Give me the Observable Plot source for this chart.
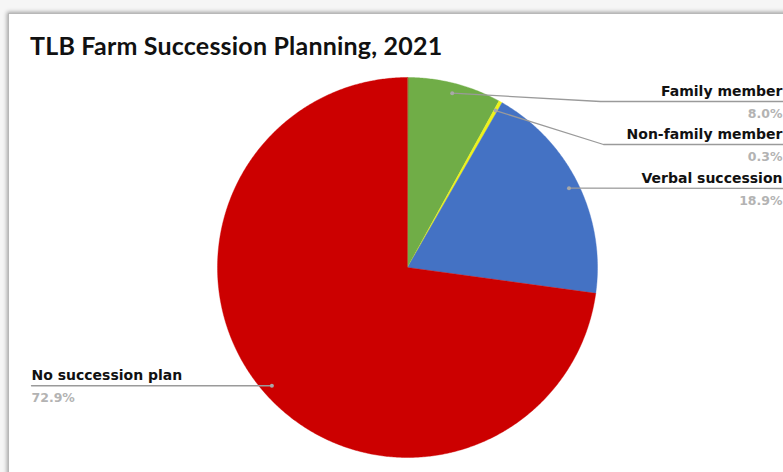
<!DOCTYPE html>
<html>
<head>
<meta charset="utf-8">
<script src="https://cdn.jsdelivr.net/npm/d3@7"></script>
<script src="https://cdn.jsdelivr.net/npm/@observablehq/plot@0.6"></script>
<style>
  html, body { margin: 0; padding: 0; background: #f4f4f4; }
  #wrap { position: relative; width: 783px; height: 472px; overflow: hidden; background: #f6f6f6; }
  #card { position: absolute; left: 8px; top: 13px; width: 820px; height: 520px; background: #fff;
          border-left: 1px solid #b8b8b8; border-top: 1px solid #b8b8b8;
          box-shadow: -1px -1px 4px rgba(0,0,0,0.35); }
  #title { position: absolute; left: 30px; top: 30px; font-family: Lato, "Open Sans", sans-serif;
           font-weight: 700; font-size: 25px; letter-spacing: 0.2px; color: #111; white-space: nowrap; }
  #chart { position: absolute; left: 0; top: 0; }
  #chart svg text.lbl { letter-spacing: 0.3px; }
</style>
</head>
<body>
<div id="wrap">
  <div id="card"></div>
  <div id="title">TLB Farm Succession Planning, 2021</div>
  <div id="chart"></div>
</div>
<script>
// ---- data ----
const categories = ["Family member", "Non-family member", "Verbal succession", "No succession plan"];
const shares = [8.0, 0.3, 18.9, 72.9];
const percentLabels = ["8.0%", "0.3%", "18.9%", "72.9%"];

// ---- styles / layout ----
const palette = ["#70ad47", "#eef21a", "#4472c4", "#cc0000"];
const W = 783, H = 472;
const cx = 407, cy = 267, R = 190;
// leader-line layout per category: line y, elbow x (or null), end x, side
const layout = [
  {lineY: 101, elbowX: 600, endX: 790, side: "right"},
  {lineY: 144, elbowX: 603, endX: 790, side: "right"},
  {lineY: 188, elbowX: null, endX: 790, side: "right"},
  {lineY: 385, elbowX: null, endX: 31, side: "left"}
];

const rows = categories.map((c, i) => ({name: c, value: shares[i], pct: percentLabels[i], i}));
const arcs = d3.pie().sort(null).value(d => d.value).startAngle(0).endAngle(2 * Math.PI)(rows);

const pt = (a, r) => [cx + r * Math.sin(a), cy - r * Math.cos(a)];

// slice polygons
const slicePts = [];
arcs.forEach(a => {
  const name = a.data.name;
  slicePts.push({name, x: cx, y: cy});
  const n = Math.max(2, Math.ceil((a.endAngle - a.startAngle) / (Math.PI / 360)));
  for (let k = 0; k <= n; k++) {
    const ang = a.startAngle + (a.endAngle - a.startAngle) * k / n;
    const [x, y] = pt(ang, R);
    slicePts.push({name, x, y});
  }
});

// leader lines & dots
const dots = [], leaders = [], labels = [], pcts = [];
arcs.forEach((a, i) => {
  const mid = (a.startAngle + a.endAngle) / 2;
  const [dx, dy] = pt(mid, R * 0.947);
  const L = layout[i];
  const name = a.data.name;
  dots.push({name, x: dx, y: dy});
  leaders.push({name, x: dx, y: dy});
  if (L.elbowX !== null) leaders.push({name, x: L.elbowX, y: L.lineY});
  leaders.push({name, x: L.endX, y: L.side === "right" ? L.lineY : dy});
  const tx = L.side === "right" ? 782 : 31;
  labels.push({x: tx, y: L.lineY - 6, text: name, anchor: L.side === "right" ? "end" : "start"});
  pcts.push({x: tx, y: L.lineY + 16, text: a.data.pct, anchor: L.side === "right" ? "end" : "start"});
});

const font = "'DejaVu Sans', Verdana, sans-serif";

const chart = Plot.plot({
  width: W, height: H,
  margin: 0,
  style: {background: "transparent", overflow: "visible"},
  x: {domain: [0, W], range: [0, W], axis: null},
  y: {domain: [0, H], range: [0, H], axis: null},
  color: {domain: categories, range: palette},
  marks: [
    Plot.line(slicePts, {x: "x", y: "y", z: "name", fill: "name", stroke: "name", strokeWidth: 0.4, curve: "linear-closed"}),
    Plot.line(leaders, {x: "x", y: "y", z: "name", stroke: "#9a9a9a", strokeWidth: 1.3}),
    Plot.dot(dots, {x: "x", y: "y", r: 2, fill: "#a8a8a8", stroke: "none"}),
    Plot.text(labels.filter(d => d.anchor === "end"), {x: "x", y: "y", text: "text", textAnchor: "end", lineAnchor: "bottom",
      fontWeight: "bold", fontSize: 14, fontFamily: font, fill: "#111", className: "lbl"}),
    Plot.text(labels.filter(d => d.anchor === "start"), {x: "x", y: "y", text: "text", textAnchor: "start", lineAnchor: "bottom",
      fontWeight: "bold", fontSize: 14, fontFamily: font, fill: "#111", className: "lbl"}),
    Plot.text(pcts.filter(d => d.anchor === "end"), {x: "x", y: "y", text: "text", textAnchor: "end", lineAnchor: "bottom",
      fontWeight: "bold", fontSize: 12.5, fontFamily: font, fill: "#b3b3b3", className: "lbl"}),
    Plot.text(pcts.filter(d => d.anchor === "start"), {x: "x", y: "y", text: "text", textAnchor: "start", lineAnchor: "bottom",
      fontWeight: "bold", fontSize: 12.5, fontFamily: font, fill: "#b3b3b3", className: "lbl"})
  ]
});
document.getElementById("chart").appendChild(chart);
</script>
</body>
</html>
